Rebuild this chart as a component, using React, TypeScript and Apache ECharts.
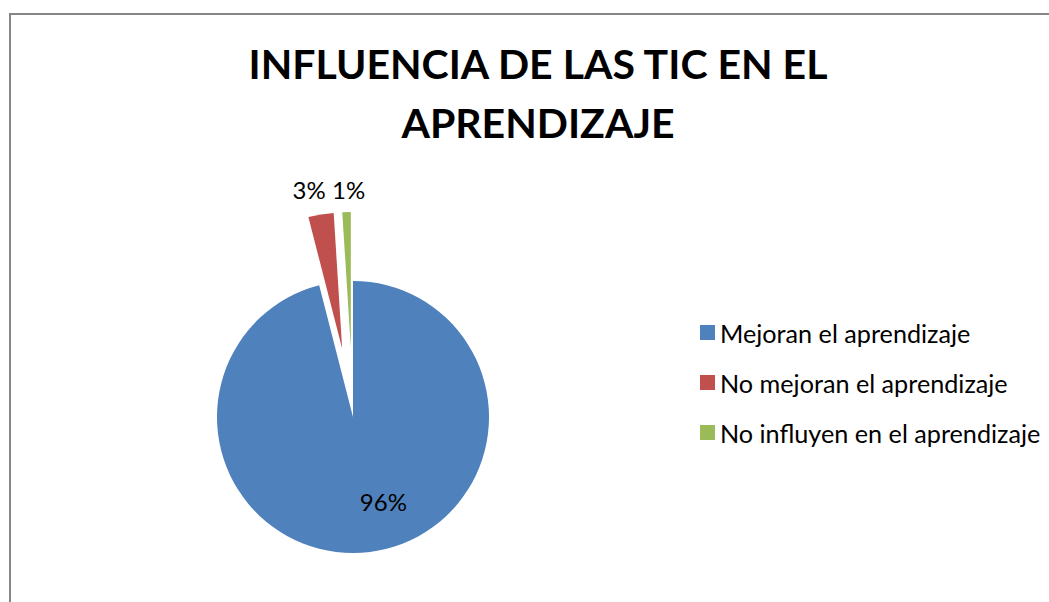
import React, { useEffect, useRef } from "react";
import * as echarts from "echarts";

const titleLines = ["INFLUENCIA DE LAS TIC EN EL", "APRENDIZAJE"];
const categories = [
  "Mejoran el aprendizaje",
  "No mejoran el aprendizaje",
  "No influyen en el aprendizaje",
];
const values = [96, 3, 1];
const exploded = [false, true, true];
const colors = ["#4F81BD", "#C0504D", "#9BBB59"];

const FONT = "Lato";
// label nudges (style only), per slice index
const LABEL_SHIFT: Record<number, [number, number]> = {
  0: [21.5, 14.5],
  1: [-22, -89],
  2: [0, -88],
};

export default function App() {
  const ref = useRef<HTMLDivElement>(null);
  useEffect(() => {
    if (!ref.current) return;
    const chart = echarts.init(ref.current, undefined, { renderer: "svg" });
    const total = values.reduce((a, b) => a + b, 0);
    chart.setOption({
      animation: false,
      backgroundColor: "#ffffff",
      color: colors,
      graphic: [
        {
          type: "rect",
          shape: { x: 10, y: 14, width: 1100, height: 700 },
          style: { fill: "none", stroke: "#868686", lineWidth: 2 },
          silent: true,
        },
        {
          type: "text",
          x: 538,
          y: 34,
          style: {
            text: titleLines.join("\n"),
            font: `bold 41px ${FONT}`,
            fill: "#000000",
            align: "center",
            verticalAlign: "top",
            lineHeight: 59,
          },
        },
      ],
      legend: {
        orient: "vertical",
        left: 695,
        top: 315,
        itemWidth: 15,
        itemHeight: 15,
        itemGap: 25,
        icon: "rect",
        data: categories,
        textStyle: {
          fontFamily: FONT,
          fontSize: 25.2,
          lineHeight: 24,
          color: "#000000",
        },
      },
      series: [
        {
          type: "pie",
          center: [353, 417],
          radius: 136,
          startAngle: 90,
          clockwise: true,
          selectedMode: "multiple",
          selectedOffset: 69,
          emphasis: { disabled: true },
          avoidLabelOverlap: false,
          label: {
            show: true,
            position: "inside",
            formatter: (p: any) => `${Math.round((p.value / total) * 100)}%`,
            fontFamily: FONT,
            fontSize: 24,
            color: "#000000",
          },
          labelLine: { show: false },
          labelLayout: (params: any) => {
            const s = LABEL_SHIFT[params.dataIndex] || [0, 0];
            return { dx: s[0], dy: s[1] };
          },
          data: categories.map((name, i) => ({
            name,
            value: values[i],
            selected: exploded[i],
          })),
        },
      ],
    });
    return () => chart.dispose();
  }, []);
  return (
    <div
      ref={ref}
      style={{ position: "fixed", left: 0, top: 0, width: 1049, height: 602 }}
    />
  );
}
